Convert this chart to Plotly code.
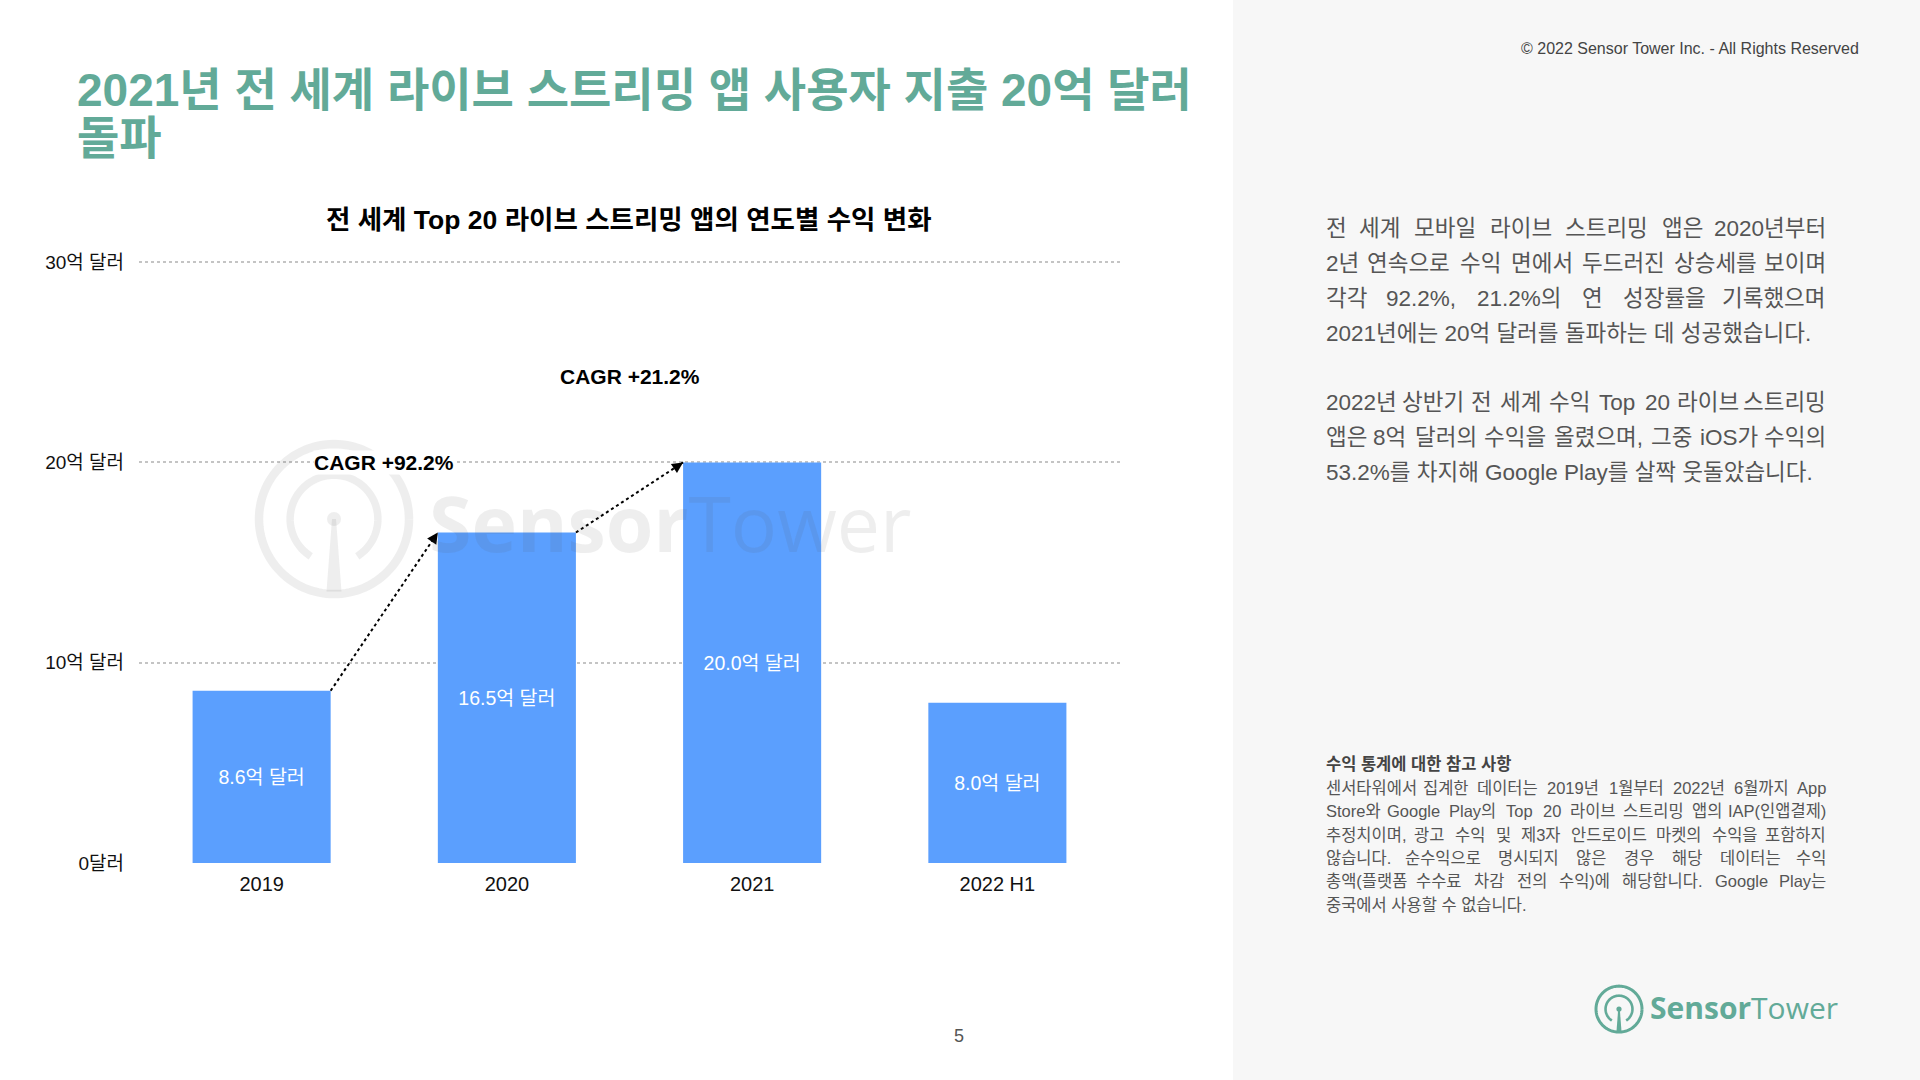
import math
import plotly.graph_objects as go

# ---------------- data ----------------
categories = ["2019", "2020", "2021", "2022 H1"]
revenue = [8.6, 16.5, 20.0, 8.0]          # 억 달러
y_tick_vals = [0, 10, 20, 30]
y_tick_text = ["0달러", "10억 달러", "20억 달러", "30억 달러"]
cagr_labels = ["CAGR +92.2%", "CAGR +21.2%"]

title_lines = ["2021년 전 세계 라이브 스트리밍 앱 사용자 지출 20억 달러", "돌파"]
chart_title = "전 세계 Top 20 라이브 스트리밍 앱의 연도별 수익 변화"
para1 = ["전 세계 모바일 라이브 스트리밍 앱은 2020년부터",
         "2년 연속으로 수익 면에서 두드러진 상승세를 보이며",
         "각각 92.2%, 21.2%의 연 성장률을 기록했으며",
         "2021년에는 20억 달러를 돌파하는 데 성공했습니다."]
para2 = ["2022년 상반기 전 세계 수익 Top 20 라이브 스트리밍",
         "앱은 8억 달러의 수익을 올렸으며, 그중 iOS가 수익의",
         "53.2%를 차지해 Google Play를 살짝 웃돌았습니다."]
note_title = "수익 통계에 대한 참고 사항"
note_lines = ["센서타워에서 집계한 데이터는 2019년 1월부터 2022년 6월까지 App",
              "Store와 Google Play의 Top 20 라이브 스트리밍 앱의 IAP(인앱결제)",
              "추정치이며, 광고 수익 및 제3자 안드로이드 마켓의 수익을 포함하지",
              "않습니다. 순수익으로 명시되지 않은 경우 해당 데이터는 수익",
              "총액(플랫폼 수수료 차감 전의 수익)에 해당합니다. Google Play는",
              "중국에서 사용할 수 없습니다."]

# ---------------- layout helpers ----------------
W, FIG_H = 1920, 1080
VS, VOFF = 0.986, 3.0      # observed vertical scale / offset of the page capture
def px(x): return x / W
def fy(y): return (y - VOFF) / VS          # target screen y -> figure y
def py(y): return 1 - fy(y) / FIG_H

FONT = "Liberation Sans, Noto Sans CJK KR, sans-serif"
TEAL = "#62AA98"
BAR_COLOR = "#5B9FFE"
BAR_W = 0.563

X0, X1 = 139, 1120          # plot area in pixels
Y_ZERO, Y_THIRTY = 862, 261
px_per_y = (Y_ZERO - Y_THIRTY) / 30.0
Y_RANGE = [0, 30.3]
Y_TOP_PX = Y_ZERO - Y_RANGE[1] * px_per_y
px_per_x = (X1 - X0) / 4

fig = go.Figure()
fig.add_trace(go.Bar(
    x=categories, y=revenue, width=BAR_W,
    marker=dict(color=BAR_COLOR, line=dict(width=0)),
    texttemplate="%{y:.1f}억 달러", textposition="inside",
    insidetextanchor="middle", textangle=0,
    textfont=dict(color="white", size=19.5, family=FONT),
    hoverinfo="skip", showlegend=False,
))

shapes = []
annotations = []

# right panel background
shapes.append(dict(type="rect", xref="paper", yref="paper", x0=px(1233), x1=1.01, y0=-0.02, y1=1.02,
                   fillcolor="#f7f7f7", line=dict(width=0), layer="below"))

# dotted growth arrows between bars
for i in range(2):
    xs, ys = i + BAR_W / 2, revenue[i]
    xe, ye = i + 1 - BAR_W / 2, revenue[i + 1]
    shapes.append(dict(type="line", xref="x", yref="y", x0=xs, y0=ys, x1=xe, y1=ye,
                       line=dict(color="black", width=2, dash="dot"), layer="above"))
    dxp = (xe - xs) * px_per_x
    dyp = (ye - ys) * px_per_y / VS
    L = math.hypot(dxp, dyp)
    annotations.append(dict(xref="x", yref="y", x=xe, y=ye, text="", showarrow=True,
                            ax=-dxp / L * 9, ay=dyp / L * 9, arrowhead=2, arrowsize=1.1,
                            arrowwidth=2, arrowcolor="black", standoff=0))

# CAGR labels
cagr_pos = [(0.5, 20.0), (1.5, 24.3)]
for (cx, cy), lab in zip(cagr_pos, cagr_labels):
    annotations.append(dict(xref="x", yref="y", x=cx, y=cy, text="<b>" + lab + "</b>",
                            showarrow=False, font=dict(size=21, color="black", family=FONT),
                            bgcolor="white", borderpad=0))

# ---------- logos ----------
def circle_pts(cx, cy, r, a0, a1, n=60):
    pts = []
    for k in range(n + 1):
        a = math.radians(a0 + (a1 - a0) * k / n)
        pts.append((cx + r * math.cos(a), cy - r * math.sin(a)))
    return pts
def path_from(pts):
    return "M " + " L ".join(f"{px(x):.5f},{py(y):.5f}" for x, y in pts)

def logo(cx, cy, r, color, lw_out, lw_in, stem_top, stem_bot, dot_r):
    out = []
    out.append(dict(type="path", xref="paper", yref="paper",
                    path=path_from(circle_pts(cx, cy, r, 0, 360, 120)),
                    line=dict(color=color, width=lw_out), layer="above"))
    out.append(dict(type="path", xref="paper", yref="paper",
                    path=path_from(circle_pts(cx, cy, r * 0.585, -58, 238, 90)),
                    line=dict(color=color, width=lw_in), layer="above"))
    yb = cy + r - lw_out * 0.3
    out.append(dict(type="path", xref="paper", yref="paper",
                    path=f"M {px(cx - stem_top/2):.5f},{py(cy):.5f} L {px(cx + stem_top/2):.5f},{py(cy):.5f} "
                         f"L {px(cx + stem_bot/2):.5f},{py(yb):.5f} L {px(cx - stem_bot/2):.5f},{py(yb):.5f} Z",
                    fillcolor=color, line=dict(width=0), layer="above"))
    out.append(dict(type="circle", xref="paper", yref="paper",
                    x0=px(cx - dot_r), x1=px(cx + dot_r), y0=py(cy + dot_r), y1=py(cy - dot_r),
                    fillcolor=color, line=dict(width=0), layer="above"))
    return out

WM = "rgba(90,90,90,0.10)"
shapes += logo(334, 518, 75, WM, 8.5, 7.5, 4, 15, 7)
annotations.append(dict(xref="paper", yref="paper", x=px(427), y=py(521), xanchor="left", yanchor="middle",
                        text="<b>Sensor</b>Tower", showarrow=False,
                        font=dict(size=77, color=WM, family="Open Sans, sans-serif")))

shapes += logo(1619, 1008, 23, TEAL, 3, 2.6, 1.6, 5, 2.6)
annotations.append(dict(xref="paper", yref="paper", x=px(1648), y=py(1006), xanchor="left", yanchor="middle",
                        text="<b>Sensor</b>Tower", showarrow=False,
                        font=dict(size=30, color=TEAL, family="Open Sans, sans-serif")))

# ---------- titles ----------
for k, (ln, yy) in enumerate(zip(title_lines, [89, 137])):
    annotations.append(dict(xref="paper", yref="paper", x=px(75), y=py(yy), xanchor="left", yanchor="middle",
                            text="<b>" + ln + "</b>", showarrow=False,
                            font=dict(size=46, color=TEAL, family=FONT)))
annotations.append(dict(xref="paper", yref="paper", x=px(629), y=py(219), xanchor="center", yanchor="middle",
                        text="<b>" + chart_title + "</b>", showarrow=False,
                        font=dict(size=26.5, color="black", family=FONT)))
annotations.append(dict(xref="paper", yref="paper", x=px(1861), y=py(47), xanchor="right", yanchor="middle",
                        text="© 2022 Sensor Tower Inc. - All Rights Reserved", showarrow=False,
                        font=dict(size=16, color="#444444", family=FONT)))
annotations.append(dict(xref="paper", yref="paper", x=px(959), y=py(1035), xanchor="center", yanchor="middle",
                        text="5", showarrow=False, font=dict(size=18, color="#555555", family=FONT)))

# ---------- justified paragraphs ----------
LAT = {' ': .278, '.': .278, ',': .278, '%': .889, '(': .333, ')': .333, '+': .584,
       'A': .667, 'P': .667, 'S': .667, 'G': .778, 'T': .611, 'I': .278, 'O': .778,
       'p': .556, 'l': .222, 'a': .556, 'y': .5, 'o': .556, 'g': .556, 'e': .556,
       'r': .333, 'i': .222, 't': .278, 's': .5}
def est_width(s, size):
    w = 0.0
    for c in s:
        if '\uac00' <= c <= '\ud7a3':
            w += 0.9
        elif c.isdigit():
            w += 0.556
        else:
            w += LAT.get(c, 0.556)
    return w * size

LEFT, RIGHT = 1324, 1828
def add_line(text, y, size, color, justify, bold=False):
    fnt = dict(size=size, color=color, family=FONT)
    if not justify:
        annotations.append(dict(xref="paper", yref="paper", x=px(LEFT), y=py(y), xanchor="left",
                                yanchor="middle", text=("<b>%s</b>" % text) if bold else text,
                                showarrow=False, font=fnt))
        return
    words = text.split(" ")
    ws = [est_width(w, size) for w in words]
    gap = (RIGHT - LEFT - sum(ws)) / (len(words) - 1)
    xcur = LEFT
    for j, (wd, wwid) in enumerate(zip(words, ws)):
        if j == 0:
            xa, xx = "left", LEFT
        elif j == len(words) - 1:
            xa, xx = "right", RIGHT
        else:
            xa, xx = "center", xcur + wwid / 2
        annotations.append(dict(xref="paper", yref="paper", x=px(xx), y=py(y), xanchor=xa,
                                yanchor="middle", text=wd, showarrow=False, font=fnt))
        xcur += wwid + gap

for k, line in enumerate(para1):
    add_line(line, 227 + 35.3 * k, 22.5, "#555555", k < len(para1) - 1)
for k, line in enumerate(para2):
    add_line(line, 401 + 35.3 * k, 22.5, "#555555", k < len(para2) - 1)
add_line(note_title, 763, 16.5, "#444444", False, bold=True)
for k, line in enumerate(note_lines):
    add_line(line, 787 + 23.3 * k, 16.5, "#555555", k < len(note_lines) - 1)

fig.update_layout(
    width=W, height=FIG_H, autosize=False,
    margin=dict(l=0, r=0, t=0, b=0),
    paper_bgcolor="white", plot_bgcolor="rgba(0,0,0,0)",
    font=dict(family=FONT, color="#222222"),
    xaxis=dict(domain=[px(X0), px(X1)], type="category", range=[-0.5, 3.5],
               showgrid=False, showline=False, zeroline=False, ticks="",
               tickfont=dict(size=20, color="#111111", family=FONT), ticklabelstandoff=7),
    yaxis=dict(domain=[py(Y_ZERO), py(Y_TOP_PX)], range=Y_RANGE, tickmode="array",
               tickvals=y_tick_vals, ticktext=y_tick_text,
               showgrid=True, gridcolor="#c4c4c4", gridwidth=1.5, griddash="dot",
               zeroline=True, zerolinecolor="rgba(0,0,0,0)", showline=False, ticks="",
               tickfont=dict(size=19, color="#111111", family=FONT), ticklabelstandoff=14),
    shapes=shapes, annotations=annotations,
)

fig.write_html("out.html")
